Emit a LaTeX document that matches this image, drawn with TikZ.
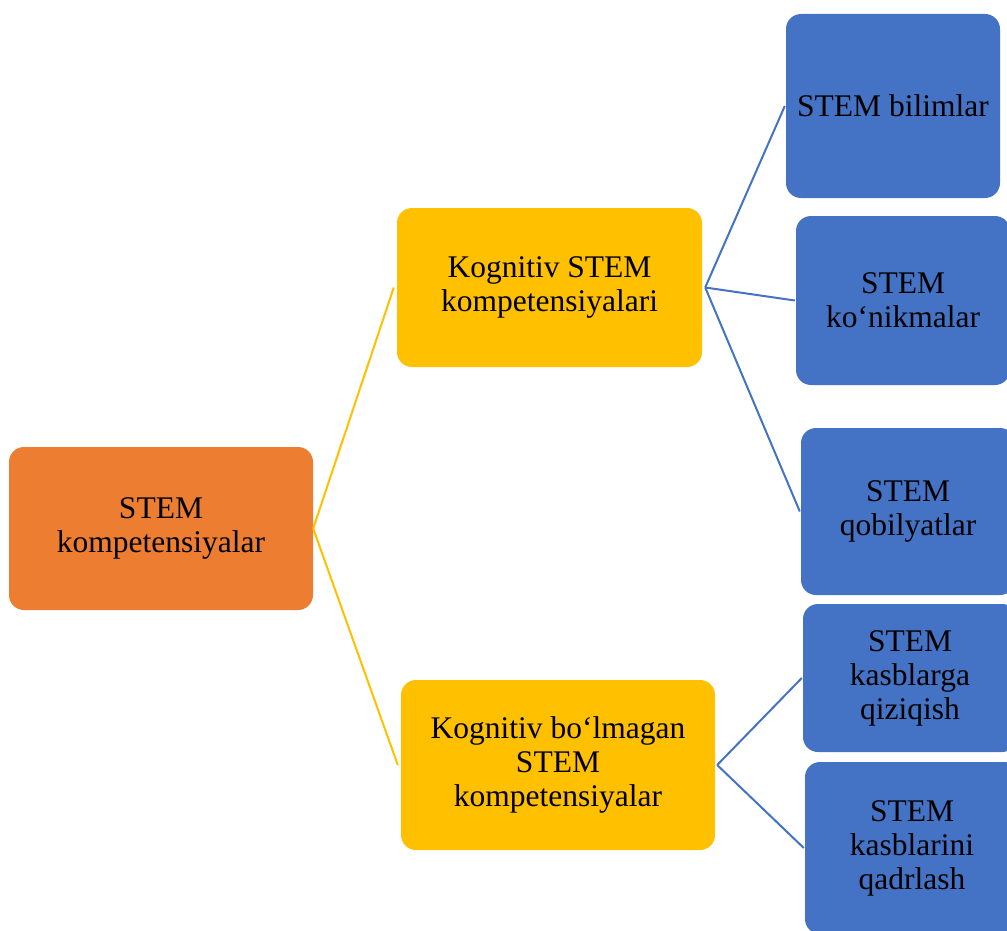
\documentclass[tikz,border=0pt]{standalone}
\usepackage{fontspec}
\setmainfont{Liberation Serif}
\definecolor{orng}{HTML}{ED7D31}
\definecolor{yel}{HTML}{FFC000}
\definecolor{blu}{HTML}{4472C4}
\begin{document}
\begin{tikzpicture}[x=1pt,y=-1pt,
  box/.style={rectangle, rounded corners=15pt, inner sep=0pt, align=center,
    font=\fontsize{31.5}{34}\selectfont, text=black},
  rootbox/.style={box, fill=orng},
  midbox/.style={box, fill=yel},
  leafbox/.style={box, fill=blu},
  yline/.style={draw=yel, line width=2pt},
  bline/.style={draw=blu, line width=2pt}]
\useasboundingbox (0,0) rectangle (1007,931);
\clip (0,0) rectangle (1007,931);
\node[rootbox, minimum width=304pt, minimum height=163pt] (root) at (161,528.5) {STEM\\kompetensiyalar};
\node[midbox, minimum width=305pt, minimum height=159pt] (k1) at (549.5,287.5) {Kognitiv STEM\\kompetensiyalari};
\node[midbox, minimum width=314pt, minimum height=170pt] (k2) at (558,765) {Kognitiv bo‘lmagan\\STEM\\kompetensiyalar};
\node[leafbox, minimum width=214pt, minimum height=184pt] (b1) at (893,106) {STEM bilimlar};
\node[leafbox, minimum width=214pt, minimum height=169pt] (b2) at (903,300.5) {STEM\\ko‘nikmalar};
\node[leafbox, minimum width=214pt, minimum height=167pt] (b3) at (908,511.5) {STEM\\qobilyatlar};
\node[leafbox, minimum width=214pt, minimum height=148pt] (b4) at (910,678) {STEM\\kasblarga\\qiziqish};
\node[leafbox, minimum width=214pt, minimum height=172pt] (b5) at (912,848) {STEM\\kasblarini\\qadrlash};
\draw[yline] (root.east) -- ([xshift=-3pt]k1.west);
\draw[yline] (root.east) -- ([xshift=-3pt]k2.west);
\draw[bline] ([xshift=3pt]k1.east) -- ([xshift=-1pt]b1.west);
\draw[bline] ([xshift=3pt]k1.east) -- ([xshift=-1pt]b2.west);
\draw[bline] ([xshift=3pt]k1.east) -- ([xshift=-1pt]b3.west);
\draw[bline] ([xshift=2pt]k2.east) -- ([xshift=-1pt]b4.west);
\draw[bline] ([xshift=2pt]k2.east) -- ([xshift=-1pt]b5.west);
\end{tikzpicture}
\end{document}
